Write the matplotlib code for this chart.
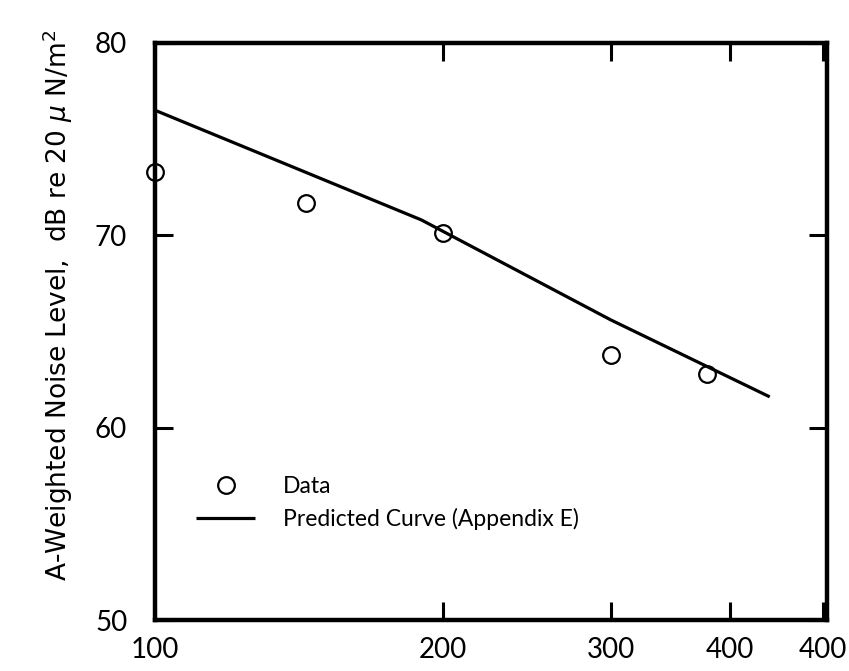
import numpy as np
import matplotlib
matplotlib.use("Agg")
import matplotlib.pyplot as plt

# data
data_x = [100, 144, 200, 300, 378]
data_y = [73.3, 71.7, 70.1, 63.8, 62.8]

curve_x = [100, 150, 190, 300, 440]
curve_y = [76.5, 72.9, 70.8, 65.6, 61.6]

xtick_pos = [100, 200, 300, 400, 500]
xtick_lab = ["100", "200", "300", "400", "400"]
ytick_pos = [50, 60, 70, 80]

plt.rcParams['font.family'] = ['Lato', 'DejaVu Sans']

fig = plt.figure(figsize=(8.49, 6.71), dpi=100)
ax = fig.add_axes([0.1826, 0.076, 0.974 - 0.1826, 0.936 - 0.076])

ax.plot(curve_x, curve_y, color='black', lw=2.3, solid_capstyle='butt',
        label='Predicted Curve (Appendix E)')
ax.plot(data_x, data_y, 'o', ms=12, mfc='none', mec='black', mew=1.6,
        clip_on=False, label='Data')

ax.set_xscale('log')
ax.set_xlim(100, 505)
ax.set_ylim(50, 80)

ax.set_xticks(xtick_pos)
ax.set_xticklabels(xtick_lab)
ax.xaxis.set_minor_locator(matplotlib.ticker.NullLocator())
ax.set_yticks(ytick_pos)

ax.tick_params(axis='both', direction='in', length=13, width=2.2,
               labelsize=20, top=True, right=True, colors='black')
ax.tick_params(axis='x', pad=12)
ax.tick_params(axis='y', pad=20)

for s in ax.spines.values():
    s.set_linewidth(3.2)

handles, labels = ax.get_legend_handles_labels()
ax.legend(handles[::-1], labels[::-1], loc='lower left',
          bbox_to_anchor=(0.03, 0.12), frameon=False, fontsize=16.5,
          handlelength=2.6, handletextpad=1.2, labelspacing=0.5)

fig.text(58 / 849, 1 - 305 / 671,
         r"A-Weighted Noise Level,  dB re 20 $\mu$ N/m$^2$",
         rotation=90, ha='center', va='center', fontsize=19,
         family='DejaVu Sans')

fig.savefig("out.png", dpi=100)
